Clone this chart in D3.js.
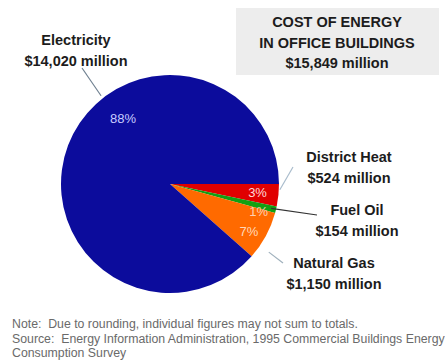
<!DOCTYPE html>
<html>
<head>
<meta charset="utf-8">
<script src="https://cdn.jsdelivr.net/npm/d3@7"></script>
<style>
  html, body { margin: 0; padding: 0; background: #fff; }
  svg { display: block; }
  text { font-family: "Liberation Sans", Arial, sans-serif; }
</style>
</head>
<body>
<svg id="chart" width="445" height="362"></svg>
<script>
// Energy cost in office buildings, millions of dollars
const categories = ["District Heat", "Fuel Oil", "Natural Gas", "Electricity"];
const costs = [524, 154, 1150, 14020];
const costLabels = ["$524 million", "$154 million", "$1,150 million", "$14,020 million"];
const titleLines = ["COST OF ENERGY", "IN OFFICE BUILDINGS", "$15,849 million"];
const noteLines = [
  "Note:  Due to rounding, individual figures may not sum to totals.",
  "Source:  Energy Information Administration, 1995 Commercial Buildings Energy",
  "Consumption Survey"
];

const colors = ["#e00000", "#12a012", "#ff6a00", "#0c0c9c"];
const pctColors = ["#ffd8d8", "#ffd0b0", "#ffd8b8", "#c8ccff"];

// layout for the callouts: angle (deg, clockwise from 12 o'clock) and radius
// of the percent text, leader start angle/radii, leader end point and label anchor
const layout = [
  { pa: 95.8, pr: 88, la: 93, l0: 110, lend: [293, 167], lc: "#a9bccc", tx: 349, ty: 162 },
  { pa: 107.5, pr: 93, la: 103.6, l0: 104, lend: [317, 215], lc: "#333333", tx: 357, ty: 215 },
  { pa: 121, pr: 92, la: 124.6, l0: 120, lend: [283, 263], lc: "#9fb0bc", tx: 334, ty: 268 },
  { pa: 324.5, pr: 81, la: 322, l0: 112, lend: [82, 68], lc: "#6f8090", tx: 76, ty: 45 }
];

const svg = d3.select("#chart");
const cx = 170, cy = 184, R = 109;
const total = d3.sum(costs);

// title panel
svg.append("rect")
  .attr("x", 236).attr("y", 8).attr("width", 203).attr("height", 67)
  .attr("fill", "#ededed");
svg.selectAll("text.title")
  .data(titleLines)
  .join("text")
  .attr("class", "title")
  .attr("x", 337)
  .attr("y", (d, i) => 27 + i * 20.5)
  .attr("text-anchor", "middle")
  .attr("font-size", 14.5)
  .attr("font-weight", "bold")
  .attr("fill", "#1c1c1c")
  .text(d => d);

// pie
const pie = d3.pie().sort(null).value(d => d)
  .startAngle(Math.PI / 2).endAngle(Math.PI / 2 + 2 * Math.PI);
const arcs = pie(costs);
const arc = d3.arc().innerRadius(0).outerRadius(R);

const g = svg.append("g").attr("transform", `translate(${cx},${cy})`);
g.selectAll("path")
  .data(arcs)
  .join("path")
  .attr("d", arc)
  .attr("fill", (d, i) => colors[i]);

const rad = a => a * Math.PI / 180;
const pt = (a, r) => [Math.sin(rad(a)) * r, -Math.cos(rad(a)) * r];

// percent labels
g.selectAll("text.pct")
  .data(arcs)
  .join("text")
  .attr("class", "pct")
  .attr("x", (d, i) => pt(layout[i].pa, layout[i].pr)[0])
  .attr("y", (d, i) => pt(layout[i].pa, layout[i].pr)[1] + 4.5)
  .attr("text-anchor", "middle")
  .attr("font-size", 13)
  .attr("fill", (d, i) => pctColors[i])
  .text(d => Math.round(d.value / total * 100) + "%");

// leader lines
svg.selectAll("line.leader")
  .data(arcs)
  .join("line")
  .attr("class", "leader")
  .attr("x1", (d, i) => cx + pt(layout[i].la, layout[i].l0)[0])
  .attr("y1", (d, i) => cy + pt(layout[i].la, layout[i].l0)[1])
  .attr("x2", (d, i) => layout[i].lend[0])
  .attr("y2", (d, i) => layout[i].lend[1])
  .attr("stroke", (d, i) => layout[i].lc)
  .attr("stroke-width", 1.2);

// category labels
const labels = svg.selectAll("g.lab")
  .data(categories)
  .join("g")
  .attr("class", "lab");
labels.append("text")
  .attr("x", (d, i) => layout[i].tx)
  .attr("y", (d, i) => layout[i].ty)
  .attr("text-anchor", "middle")
  .attr("font-size", 14.5)
  .attr("font-weight", "bold")
  .attr("fill", "#1c1c1c")
  .text(d => d);
labels.append("text")
  .attr("x", (d, i) => layout[i].tx)
  .attr("y", (d, i) => layout[i].ty + 20.5)
  .attr("text-anchor", "middle")
  .attr("font-size", 14.5)
  .attr("font-weight", "bold")
  .attr("fill", "#1c1c1c")
  .text((d, i) => costLabels[i]);

// footnote
svg.selectAll("text.note")
  .data(noteLines)
  .join("text")
  .attr("class", "note")
  .attr("x", 12)
  .attr("y", (d, i) => 328 + i * 14.5)
  .attr("font-size", 12.3)
  .attr("fill", "#6a6a6a")
  .attr("xml:space", "preserve")
  .style("white-space", "pre")
  .text(d => d);
</script>
</body>
</html>
